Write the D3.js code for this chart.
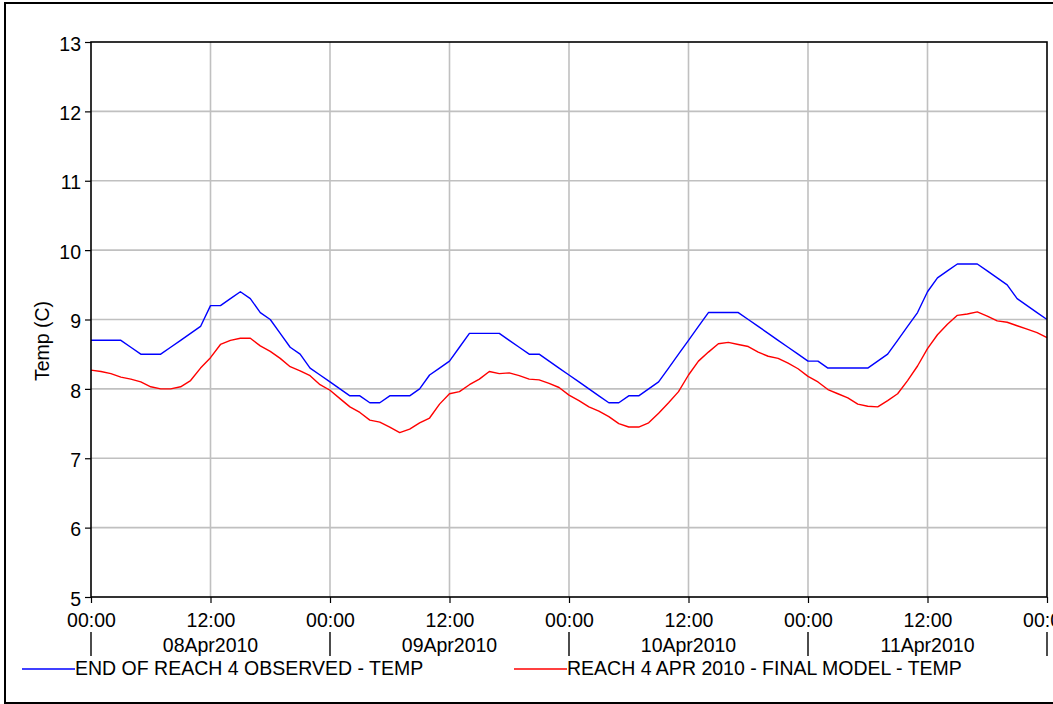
<!DOCTYPE html>
<html>
<head>
<meta charset="utf-8">
<script src="https://cdn.jsdelivr.net/npm/d3@7"></script>
<style>
  body { margin: 0; background: #fff; }
  svg { display: block; font-family: "Liberation Sans", Arial, sans-serif; }
</style>
</head>
<body>
<div id="chart"></div>
<script>
// hourly series, starting 08Apr2010 00:00
const startTime = "2010-04-08T00:00:00Z";

const observedTemp = [
  8.7, 8.7, 8.7, 8.7, 8.6, 8.5, 8.5, 8.5, 8.6, 8.7, 8.8, 8.9,
  9.2, 9.2, 9.3, 9.4, 9.3, 9.1, 9.0, 8.8, 8.6, 8.5, 8.3, 8.2,
  8.1, 8.0, 7.9, 7.9, 7.8, 7.8, 7.9, 7.9, 7.9, 8.0, 8.2, 8.3,
  8.4, 8.6, 8.8, 8.8, 8.8, 8.8, 8.7, 8.6, 8.5, 8.5, 8.4, 8.3,
  8.2, 8.1, 8.0, 7.9, 7.8, 7.8, 7.9, 7.9, 8.0, 8.1, 8.3, 8.5,
  8.7, 8.9, 9.1, 9.1, 9.1, 9.1, 9.0, 8.9, 8.8, 8.7, 8.6, 8.5,
  8.4, 8.4, 8.3, 8.3, 8.3, 8.3, 8.3, 8.4, 8.5, 8.7, 8.9, 9.1,
  9.4, 9.6, 9.7, 9.8, 9.8, 9.8, 9.7, 9.6, 9.5, 9.3, 9.2, 9.1,
  9.0
];

const modelTemp = [
  8.27, 8.25, 8.22, 8.17, 8.14, 8.10, 8.03, 8.00, 8.00, 8.03, 8.12, 8.30,
  8.45, 8.64, 8.70, 8.73, 8.73, 8.62, 8.54, 8.44, 8.32, 8.26, 8.19, 8.06,
  7.98, 7.86, 7.74, 7.66, 7.55, 7.52, 7.45, 7.37, 7.42, 7.51, 7.58, 7.78,
  7.93, 7.96, 8.06, 8.14, 8.25, 8.22, 8.23, 8.19, 8.14, 8.13, 8.08, 8.02,
  7.91, 7.83, 7.74, 7.68, 7.60, 7.50, 7.45, 7.45, 7.51, 7.65, 7.80, 7.96,
  8.20, 8.40, 8.53, 8.65, 8.67, 8.64, 8.61, 8.53, 8.47, 8.44, 8.37, 8.29,
  8.18, 8.10, 7.99, 7.93, 7.87, 7.78, 7.75, 7.74, 7.83, 7.93, 8.12, 8.33,
  8.58, 8.78, 8.93, 9.06, 9.08, 9.11, 9.05, 8.98, 8.96, 8.91, 8.86, 8.81,
  8.74
];

const seriesNames = ["END OF REACH 4 OBSERVED - TEMP", "REACH 4 APR 2010 - FINAL MODEL - TEMP"];
const seriesColors = ["#0000ff", "#ff0000"];
const yTicks = [5, 6, 7, 8, 9, 10, 11, 12, 13];

let width = 1053;
let height = 704;
let margin = {top: 42, left: 91, right: 6, bottom: 107};
let plotW = width - margin.left - margin.right;
let plotH = height - margin.top - margin.bottom;
let fontSize = "19.5px";

let svg = d3.select("#chart").append("svg")
  .attr("width", width)
  .attr("height", height);

// outer frame (right edge runs off the page)
svg.append("rect")
  .attr("x", 5).attr("y", 3)
  .attr("width", 1070).attr("height", 700)
  .attr("fill", "none").attr("stroke", "#000").attr("stroke-width", 2);

let t0 = new Date(startTime);
function toDate(i) { return new Date(t0.getTime() + i * 3600 * 1000); }

let x = d3.scaleUtc()
  .domain([t0, toDate(96)])
  .range([margin.left, margin.left + plotW]);
let y = d3.scaleLinear()
  .domain([5, 13])
  .range([margin.top + plotH, margin.top]);

let halfDays = d3.utcHour.every(12).range(t0, toDate(96 + 1));
let midnights = d3.utcDay.range(t0, toDate(96 + 1));
let noons = d3.utcDay.range(t0, toDate(96)).map(d => d3.utcHour.offset(d, 12));

// grid
svg.append("g").selectAll("line")
  .data(yTicks.slice(1, -1))
  .enter().append("line")
  .attr("x1", margin.left).attr("x2", margin.left + plotW)
  .attr("y1", d => y(d)).attr("y2", d => y(d))
  .attr("stroke", "#c0c0c0").attr("stroke-width", 1.6);
svg.append("g").selectAll("line")
  .data(halfDays.slice(1, -1))
  .enter().append("line")
  .attr("x1", d => x(d)).attr("x2", d => x(d))
  .attr("y1", margin.top).attr("y2", margin.top + plotH)
  .attr("stroke", "#c0c0c0").attr("stroke-width", 1.6);

// lines
let series = [observedTemp, modelTemp];
let line = d3.line()
  .x((d, i) => x(toDate(i)))
  .y(d => y(d));
svg.append("g").selectAll("path")
  .data(series)
  .enter().append("path")
  .attr("d", d => line(d))
  .attr("fill", "none")
  .attr("stroke", (d, i) => seriesColors[i])
  .attr("stroke-width", 1.4)
  .attr("stroke-linejoin", "round");

// plot frame
svg.append("rect")
  .attr("x", margin.left).attr("y", margin.top)
  .attr("width", plotW).attr("height", plotH)
  .attr("fill", "none").attr("stroke", "#000").attr("stroke-width", 1.6);

// y axis
let yAxis = d3.axisLeft(y)
  .tickValues(yTicks)
  .tickSize(6)
  .tickPadding(4);
let gy = svg.append("g")
  .attr("transform", "translate(" + margin.left + ",0)")
  .call(yAxis);
gy.select(".domain").remove();
gy.selectAll("line").attr("stroke", "#000").attr("stroke-width", 1.2);
gy.selectAll("text")
  .style("font-size", fontSize)
  .style("font-family", "Liberation Sans, Arial, sans-serif")
  .attr("dy", "0.42em")
  .attr("fill", "#000");

svg.append("text")
  .attr("transform", "translate(49," + 341 + ") rotate(-90)")
  .attr("text-anchor", "middle")
  .style("font-size", fontSize)
  .text("Temp (C)");

// x axis: times
let xAxis = d3.axisBottom(x)
  .tickValues(halfDays)
  .tickFormat(d3.utcFormat("%H:%M"))
  .tickSize(6)
  .tickPadding(10);
let gx = svg.append("g")
  .attr("transform", "translate(0," + (margin.top + plotH) + ")")
  .call(xAxis);
gx.select(".domain").remove();
gx.selectAll("line").attr("stroke", "#000").attr("stroke-width", 1.2);
gx.selectAll("text")
  .style("font-size", fontSize)
  .style("font-family", "Liberation Sans, Arial, sans-serif")
  .attr("fill", "#000");

// day separators and date labels
svg.append("g").selectAll("line")
  .data(midnights)
  .enter().append("line")
  .attr("x1", d => x(d)).attr("x2", d => x(d))
  .attr("y1", 632).attr("y2", 656)
  .attr("stroke", "#000").attr("stroke-width", 1.4);
svg.append("g").selectAll("text")
  .data(noons)
  .enter().append("text")
  .attr("x", d => x(d))
  .attr("y", 652)
  .attr("text-anchor", "middle")
  .style("font-size", fontSize)
  .text(d => d3.utcFormat("%d%b%Y")(d));

// legend
let legendX = [22, 514];
let legend = svg.append("g").selectAll("g")
  .data(seriesNames)
  .enter().append("g")
  .attr("transform", (d, i) => "translate(" + legendX[i] + ",669)");
legend.append("line")
  .attr("x1", 0).attr("x2", 53)
  .attr("stroke", (d, i) => seriesColors[i])
  .attr("stroke-width", 1.4);
legend.append("text")
  .attr("x", 53).attr("y", 6)
  .style("font-size", fontSize)
  .text(d => d);
</script>
</body>
</html>
